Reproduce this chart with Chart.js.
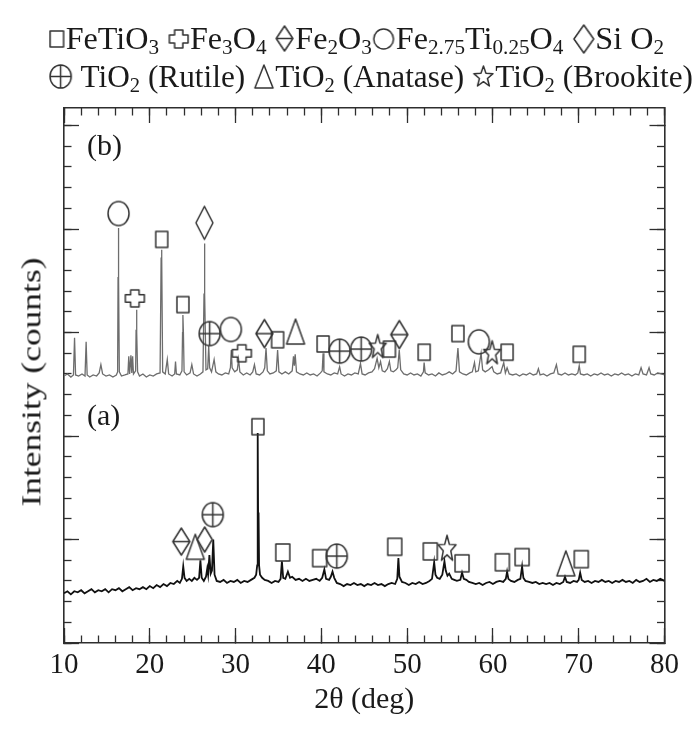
<!DOCTYPE html>
<html>
<head>
<meta charset="utf-8">
<script src="https://cdn.jsdelivr.net/npm/chart.js@4.4.0/dist/chart.umd.min.js"></script>
<style>
  html, body { margin: 0; padding: 0; background: #fff; }
  #wrap { position: relative; width: 699px; height: 731px; overflow: hidden; }
  #c { position: absolute; left: 0; top: 0; }
  .lg { position: absolute; left: 47.8px; white-space: nowrap; font-family: 'Liberation Serif', serif;
        font-size: 31px; line-height: 31px; color: #1a1a1a; display: inline-block; transform-origin: 0 0; }
  .lg sub { font-size: 0.66em; line-height: 0; vertical-align: -0.22em; }
  .pl { position: absolute; font-family: 'Liberation Serif', serif; font-size: 30px; line-height: 30px; color: #1a1a1a; white-space: nowrap; }
  .sym { display: inline-block; position: relative; height: 0; }
  .sym canvas { position: absolute; }
  #ytitle { position: absolute; left: 0; top: 0; font-family: 'Liberation Serif', serif; font-size: 28px; line-height: 28px;
            color: #1a1a1a; white-space: nowrap; display: inline-block; transform-origin: 50% 50%; }
</style>
</head>
<body>
<div id="wrap">
  <canvas id="c" width="699" height="731"></canvas>
  <div class="lg" id="row1"><span data-s="square"></span>FeTiO<sub>3</sub> <span data-s="cross"></span>Fe<sub>3</sub>O<sub>4</sub> <span data-s="fe2o3"></span>Fe<sub>2</sub>O<sub>3</sub><span data-s="circle"></span>Fe<sub>2.75</sub>Ti<sub>0.25</sub>O<sub>4</sub> <span data-s="diamond"></span>Si O<sub>2</sub></div>
  <div class="lg" id="row2"><span data-s="rutile"></span> TiO<sub>2</sub> (Rutile) <span data-s="triangle"></span>TiO<sub>2</sub> (Anatase) <span data-s="star"></span>TiO<sub>2</sub> (Brookite)</div>
  <div class="pl" style="left:87px;top:129.6px">(b)</div>
  <div class="pl" style="left:87px;top:399.6px">(a)</div>
  <div id="ytitle">Intensity (counts)</div>
</div>
<script>
// ---------------- data ----------------
const xTickLabels = ['10', '20', '30', '40', '50', '60', '70', '80'];

// pattern (a): [2theta, intensity]
const patternA = [
  [10.0,0.48],[10.4,0.50],[10.8,0.47],[11.2,0.50],[11.6,0.49],[12.0,0.51],[12.4,0.48],[12.8,0.50],[13.2,0.52],[13.6,0.49],
  [14.0,0.51],[14.4,0.50],[14.8,0.52],[15.2,0.49],[15.6,0.52],[16.0,0.51],[16.4,0.53],[16.8,0.50],[17.2,0.52],[17.6,0.54],
  [18.0,0.51],[18.4,0.53],[18.8,0.52],[19.2,0.54],[19.6,0.52],[20.0,0.55],[20.4,0.53],[20.8,0.56],[21.2,0.54],[21.6,0.57],
  [22.0,0.55],[22.4,0.58],[22.8,0.57],[23.2,0.60],[23.5,0.58],[23.75,0.62],[23.9,0.74],[24.05,0.63],[24.3,0.60],[24.6,0.62],
  [24.9,0.60],[25.2,0.63],[25.5,0.61],[25.75,0.63],[25.9,0.80],[26.05,0.63],[26.3,0.60],[26.55,0.64],[26.7,0.72],[26.8,0.66],
  [26.95,0.85],[27.1,0.67],[27.25,0.70],[27.4,1.00],[27.55,0.66],[27.8,0.60],[28.2,0.59],[28.6,0.61],[29.0,0.58],[29.4,0.60],
  [29.8,0.59],[30.2,0.61],[30.6,0.58],[31.0,0.60],[31.4,0.59],[31.8,0.61],[32.2,0.63],[32.4,0.66],[32.52,0.75],[32.56,1.25],
  [32.60,2.03],[32.64,1.00],[32.68,1.26],[32.74,0.75],[32.85,0.66],[33.1,0.63],[33.4,0.61],[33.8,0.60],[34.2,0.58],[34.6,0.60],
  [35.0,0.59],[35.25,0.62],[35.4,0.79],[35.55,0.63],[35.8,0.62],[36.1,0.69],[36.35,0.63],[36.6,0.64],[37.0,0.61],[37.4,0.62],
  [37.8,0.60],[38.2,0.62],[38.6,0.60],[39.0,0.61],[39.4,0.62],[39.8,0.60],[40.1,0.63],[40.35,0.71],[40.55,0.62],[40.9,0.61],
  [41.1,0.64],[41.3,0.69],[41.5,0.63],[41.8,0.58],[42.2,0.57],[42.6,0.55],[43.0,0.57],[43.4,0.56],[43.8,0.58],[44.2,0.56],
  [44.6,0.57],[45.0,0.55],[45.4,0.57],[45.8,0.56],[46.2,0.58],[46.6,0.56],[47.0,0.57],[47.4,0.55],[47.8,0.57],[48.2,0.58],
  [48.6,0.57],[48.85,0.62],[48.98,0.82],[49.1,0.64],[49.4,0.59],[49.8,0.58],[50.2,0.56],[50.6,0.58],[51.0,0.57],[51.4,0.59],
  [51.8,0.57],[52.2,0.58],[52.6,0.60],[52.9,0.62],[53.15,0.78],[53.3,0.66],[53.5,0.63],[53.8,0.62],[54.1,0.66],[54.35,0.79],
  [54.5,0.70],[54.7,0.65],[54.9,0.67],[55.2,0.62],[55.5,0.61],[55.8,0.60],[56.2,0.61],[56.4,0.68],[56.6,0.62],[56.9,0.61],
  [57.2,0.59],[57.6,0.58],[58.0,0.57],[58.4,0.58],[58.8,0.56],[59.2,0.58],[59.6,0.59],[60.0,0.57],[60.4,0.59],[60.8,0.60],
  [61.2,0.59],[61.5,0.62],[61.65,0.69],[61.8,0.62],[62.1,0.60],[62.5,0.59],[62.9,0.61],[63.2,0.62],[63.4,0.74],[63.55,0.63],
  [63.8,0.60],[64.2,0.59],[64.6,0.58],[65.0,0.59],[65.4,0.57],[65.8,0.58],[66.2,0.57],[66.6,0.58],[67.0,0.56],[67.4,0.58],
  [67.8,0.57],[68.2,0.59],[68.4,0.64],[68.6,0.59],[69.0,0.58],[69.4,0.60],[69.8,0.59],[70.0,0.61],[70.17,0.68],[70.35,0.61],
  [70.7,0.59],[71.1,0.60],[71.5,0.58],[71.9,0.60],[72.3,0.59],[72.7,0.61],[73.1,0.59],[73.5,0.60],[73.9,0.58],[74.3,0.60],
  [74.7,0.59],[75.1,0.61],[75.5,0.59],[75.9,0.60],[76.3,0.58],[76.7,0.61],[77.1,0.59],[77.5,0.60],[77.9,0.62],[78.3,0.59],
  [78.7,0.61],[79.1,0.60],[79.5,0.62],[80.0,0.60]
];

// pattern (b): [2theta, intensity]
const patternB = [
  [10.0,2.58],[10.4,2.60],[10.8,2.57],[11.1,2.59],[11.23,2.95],[11.35,2.59],[11.7,2.58],[12.1,2.60],[12.45,2.58],[12.58,2.91],
  [12.7,2.59],[13.0,2.57],[13.4,2.59],[13.8,2.58],[14.1,2.61],[14.3,2.69],[14.5,2.60],[14.9,2.58],[15.3,2.59],[15.7,2.57],
  [16.1,2.59],[16.25,2.62],[16.30,3.53],[16.34,4.01],[16.38,3.53],[16.45,2.62],[16.7,2.58],[17.1,2.59],[17.45,2.60],[17.55,2.77],
  [17.65,2.60],[17.8,2.78],[17.9,2.61],[18.0,2.77],[18.1,2.60],[18.35,2.63],[18.40,3.01],[18.45,3.22],[18.50,3.00],[18.58,2.62],
  [18.8,2.58],[19.2,2.60],[19.6,2.57],[20.0,2.59],[20.4,2.58],[20.8,2.60],[21.2,2.61],[21.32,3.72],[21.36,3.80],[21.42,3.72],
  [21.5,2.62],[21.8,2.60],[22.04,2.74],[22.2,2.60],[22.6,2.58],[22.9,2.60],[23.0,2.72],[23.1,2.60],[23.5,2.59],[23.75,2.63],
  [23.82,3.00],[23.86,3.17],[23.92,3.00],[24.0,2.62],[24.3,2.59],[24.7,2.61],[24.9,2.69],[25.1,2.60],[25.5,2.58],[25.9,2.60],
  [26.2,2.62],[26.32,3.37],[26.37,3.86],[26.42,3.37],[26.55,2.64],[26.75,2.65],[26.87,2.87],[26.98,2.66],[27.2,2.62],[27.5,2.74],
  [27.7,2.62],[28.0,2.60],[28.4,2.59],[28.8,2.61],[29.2,2.60],[29.4,2.66],[29.5,2.83],[29.6,2.66],[29.9,2.62],[30.2,2.64],
  [30.35,2.74],[30.5,2.62],[30.9,2.59],[31.3,2.61],[31.7,2.59],[32.0,2.62],[32.2,2.69],[32.4,2.60],[32.8,2.59],[33.2,2.62],
  [33.4,2.66],[33.55,2.85],[33.7,2.63],[34.0,2.60],[34.4,2.61],[34.75,2.63],[34.9,2.83],[35.05,2.62],[35.4,2.60],[35.8,2.62],
  [36.2,2.60],[36.6,2.63],[36.75,2.77],[36.85,2.68],[36.95,2.79],[37.1,2.62],[37.5,2.60],[37.9,2.59],[38.3,2.61],[38.7,2.59],
  [39.1,2.60],[39.5,2.58],[39.9,2.61],[40.1,2.63],[40.2,2.80],[40.3,2.62],[40.7,2.60],[41.1,2.59],[41.5,2.61],[41.9,2.60],
  [42.13,2.67],[42.3,2.60],[42.7,2.58],[43.1,2.60],[43.5,2.59],[43.9,2.61],[44.3,2.60],[44.56,2.70],[44.75,2.60],[45.1,2.59],
  [45.5,2.61],[45.9,2.62],[46.2,2.65],[46.5,2.75],[46.7,2.66],[46.9,2.72],[47.1,2.63],[47.4,2.62],[47.7,2.65],[47.93,2.72],
  [48.1,2.63],[48.4,2.62],[48.7,2.64],[48.9,2.66],[49.08,2.83],[49.25,2.64],[49.6,2.60],[50.0,2.59],[50.4,2.61],[50.8,2.59],
  [51.2,2.60],[51.6,2.58],[51.9,2.62],[51.98,2.71],[52.1,2.61],[52.5,2.59],[52.9,2.60],[53.3,2.58],[53.7,2.61],[54.1,2.59],
  [54.5,2.60],[54.9,2.62],[55.3,2.60],[55.7,2.63],[55.92,2.85],[56.1,2.62],[56.5,2.60],[56.9,2.59],[57.3,2.61],[57.6,2.62],
  [57.85,2.71],[58.0,2.62],[58.3,2.63],[58.62,2.80],[58.8,2.64],[59.1,2.62],[59.5,2.64],[59.75,2.66],[59.9,2.67],[60.1,2.62],
  [60.5,2.60],[60.9,2.61],[61.26,2.71],[61.45,2.61],[61.65,2.66],[61.9,2.60],[62.3,2.59],[62.7,2.60],[63.1,2.58],[63.5,2.60],
  [63.9,2.59],[64.3,2.61],[64.7,2.59],[65.1,2.60],[65.3,2.65],[65.5,2.59],[65.9,2.60],[66.3,2.58],[66.7,2.60],[67.1,2.61],
  [67.4,2.69],[67.6,2.60],[68.0,2.59],[68.4,2.61],[68.8,2.59],[69.2,2.60],[69.6,2.59],[69.9,2.61],[70.06,2.68],[70.2,2.60],
  [70.6,2.59],[71.0,2.60],[71.4,2.58],[71.8,2.60],[72.2,2.59],[72.6,2.61],[73.0,2.59],[73.4,2.60],[73.8,2.58],[74.2,2.60],
  [74.6,2.59],[75.0,2.61],[75.4,2.59],[75.8,2.60],[76.2,2.58],[76.6,2.60],[77.0,2.59],[77.27,2.66],[77.5,2.60],[77.9,2.59],
  [78.2,2.66],[78.4,2.60],[78.8,2.59],[79.2,2.61],[79.6,2.60],[80.0,2.59]
];

// phase marks: [2theta, intensity]
const markFeTiO3 = [[21.39,3.90],[23.86,3.27],[34.9,2.93],[40.2,2.89],[47.93,2.84],[51.98,2.81],[55.92,2.99],[61.65,2.81],[70.06,2.79],
                    [32.6,2.09],[35.5,0.875],[39.8,0.82],[48.55,0.93],[52.7,0.885],[56.4,0.77],[61.1,0.78],[63.4,0.83],[70.3,0.81]];
const markFe3O4 = [[18.26,3.33],[30.73,2.80]];
const markFe2O3 = [[33.36,2.99],[49.08,2.98],[23.67,0.98]];
const markFeTi = [[16.36,4.15],[29.45,3.03],[58.36,2.91]];
const markSiO2 = [[26.37,4.06],[26.4,1.00]];
const markRutile = [[26.98,2.99],[42.13,2.82],[44.64,2.84],[27.34,1.24],[41.8,0.84]];
const markAnatase = [[36.99,3.01],[25.3,0.93],[68.5,0.77]];
const markBrookite = [[46.57,2.87],[59.9,2.81],[54.65,0.92]];

// ---------------- styling ----------------
const FONT = 'Liberation Serif';
const INK = '#1a1a1a';
const FRAME = '#2e2e2e';
const SYMCOL = '#333';
const YMAX = 5.17;

// symbol sizes [w,h] : b = upper pattern, a = lower pattern, lg = legend
const SIZES = {
  square:   { b: [12, 16], a: [14, 17], lg: [13, 16] },
  cross:    { b: [19, 17], a: [19, 17], lg: [18, 18] },
  fe2o3:    { b: [17, 28], a: [17, 27], lg: [16, 25] },
  circle:   { b: [21, 24], a: [21, 24], lg: [19, 20] },
  diamond:  { b: [17, 33], a: [15, 25], lg: [19, 28] },
  rutile:   { b: [21, 24], a: [21, 24], lg: [21, 23] },
  triangle: { b: [18, 25], a: [18, 25], lg: [18, 23] },
  star:     { b: [17, 23], a: [18, 25], lg: [19, 20] }
};

function makeSym(type, w, h, lw) {
  const pad = 3;
  const c = document.createElement('canvas');
  c.width = Math.ceil(w + 2 * pad);
  c.height = Math.ceil(h + 2 * pad);
  const g = c.getContext('2d');
  g.strokeStyle = SYMCOL;
  g.lineWidth = lw;
  g.lineJoin = 'round';
  const cx = c.width / 2, cy = c.height / 2, rx = w / 2, ry = h / 2;
  g.beginPath();
  if (type === 'square') {
    g.rect(cx - rx, cy - ry, w, h);
  } else if (type === 'circle') {
    g.ellipse(cx, cy, rx, ry, 0, 0, Math.PI * 2);
  } else if (type === 'triangle') {
    g.moveTo(cx, cy - ry); g.lineTo(cx + rx, cy + ry); g.lineTo(cx - rx, cy + ry); g.closePath();
  } else if (type === 'diamond' || type === 'fe2o3') {
    g.moveTo(cx, cy - ry); g.lineTo(cx + rx, cy); g.lineTo(cx, cy + ry); g.lineTo(cx - rx, cy); g.closePath();
    if (type === 'fe2o3') { g.moveTo(cx - rx, cy); g.lineTo(cx + rx, cy); }
  } else if (type === 'rutile') {
    g.ellipse(cx, cy, rx, ry, 0, 0, Math.PI * 2);
    g.moveTo(cx - rx, cy); g.lineTo(cx + rx, cy);
    g.moveTo(cx, cy - ry); g.lineTo(cx, cy + ry);
  } else if (type === 'cross') {
    const a = w * 0.22, b = h * 0.22;
    const pts = [[-a,-ry],[a,-ry],[a,-b],[rx,-b],[rx,b],[a,b],[a,ry],[-a,ry],[-a,b],[-rx,b],[-rx,-b],[-a,-b]];
    pts.forEach((p, i) => i ? g.lineTo(cx + p[0], cy + p[1]) : g.moveTo(cx + p[0], cy + p[1]));
    g.closePath();
  } else if (type === 'star') {
    const Rx = rx / 0.951, Ry = h / 1.809, dy = 0.0955 * Ry;
    for (let i = 0; i < 10; i++) {
      const ang = -Math.PI / 2 + i * Math.PI / 5;
      const r = (i % 2) ? 0.42 : 1;
      const px = cx + r * Rx * Math.cos(ang), py = cy + dy + r * Ry * Math.sin(ang);
      i ? g.lineTo(px, py) : g.moveTo(px, py);
    }
    g.closePath();
  }
  g.stroke();
  return c;
}

// legend symbols
document.querySelectorAll('.lg span[data-s]').forEach(sp => {
  const t = sp.dataset.s;
  const [w, h] = SIZES[t].lg;
  const cv = makeSym(t, w, h, 1.5);
  sp.className = 'sym';
  sp.style.width = (w + 4) + 'px';
  cv.style.left = (2 - 3) + 'px';
  cv.style.top = (-10.3 - cv.height / 2) + 'px';
  sp.appendChild(cv);
});
function placeRow(id, top, target) {
  const el = document.getElementById(id);
  el.style.top = top + 'px';
  const wdt = el.getBoundingClientRect().width;
  el.style.transform = 'scaleX(' + (target / wdt) + ')';
}
placeRow('row1', 22.8, 616);
placeRow('row2', 60.7, 645);

// y-axis title: vertical text, centred at (31.5, 382), about 249 px long
(function () {
  const el = document.getElementById('ytitle');
  const r = el.getBoundingClientRect();
  const k = 249 / r.width;
  el.style.left = (31.5 - r.width / 2) + 'px';
  el.style.top = (382 - r.height / 2) + 'px';
  el.style.transform = 'rotate(-90deg) scaleX(' + k + ')';
})();

// marker datasets
function markDS(label, data, type) {
  const symB = makeSym(type, SIZES[type].b[0], SIZES[type].b[1], 1.5);
  const symA = makeSym(type, SIZES[type].a[0], SIZES[type].a[1], 1.5);
  return {
    label, data, showLine: false, pointRadius: 6, order: 0,
    pointStyle: ctx => (ctx.raw && ctx.raw[1] < 2) ? symA : symB
  };
}

function tickAxis(position, step, len, weight, border) {
  const horiz = position === 'top' || position === 'bottom';
  return {
    type: 'linear', position, weight,
    min: horiz ? 10 : 0, max: horiz ? 80 : YMAX,
    ticks: { display: false, stepSize: step, autoSkip: false, includeBounds: false },
    grid: { drawOnChartArea: false, drawTicks: true, tickLength: -len, tickColor: FRAME, tickWidth: 1.3 },
    border: { display: border, color: FRAME, width: 1.6 },
    afterFit(s) { if (horiz) s.height = 0; else s.width = 0; }
  };
}

const chart = new Chart(document.getElementById('c'), {
  type: 'scatter',
  data: {
    datasets: [
      { label: '(b)', data: patternB, showLine: true, borderColor: '#6d6d6d', borderWidth: 1.3, pointRadius: 0, tension: 0, order: 2 },
      { label: '(a)', data: patternA, showLine: true, borderColor: '#111', borderWidth: 1.8, pointRadius: 0, tension: 0, order: 1 },
      markDS('FeTiO3', markFeTiO3, 'square'),
      markDS('Fe3O4', markFe3O4, 'cross'),
      markDS('Fe2O3', markFe2O3, 'fe2o3'),
      markDS('Fe2.75Ti0.25O4', markFeTi, 'circle'),
      markDS('SiO2', markSiO2, 'diamond'),
      markDS('TiO2 (Rutile)', markRutile, 'rutile'),
      markDS('TiO2 (Anatase)', markAnatase, 'triangle'),
      markDS('TiO2 (Brookite)', markBrookite, 'star')
    ]
  },
  options: {
    responsive: false,
    animation: false,
    events: [],
    layout: { padding: { top: 108, right: 30, left: 0, bottom: 0 } },
    plugins: { legend: { display: false }, tooltip: { enabled: false } },
    scales: {
      x: {
        type: 'linear', position: 'bottom', min: 10, max: 80, weight: 1,
        ticks: {
          stepSize: 10, autoSkip: false, maxRotation: 0, padding: 20,
          font: { family: FONT, size: 29 }, color: INK,
          callback: (v) => { const i = xTickLabels.indexOf(String(v)); return i >= 0 ? xTickLabels[i] : ''; }
        },
        grid: { drawOnChartArea: false, tickLength: -15, tickColor: FRAME, tickWidth: 1.3 },
        border: { display: true, color: FRAME, width: 1.6 },
        title: { display: true, text: '2θ (deg)', font: { family: FONT, size: 30 }, color: INK, padding: { top: 0, bottom: 13 } },
        afterFit(s) { s.height = 88; }
      },
      xMinor: tickAxis('bottom', 2, 7.5, 0, false),
      xTop: tickAxis('top', 10, 15, 1, true),
      xTopMinor: tickAxis('top', 2, 7.5, 0, false),
      y: {
        type: 'linear', position: 'left', min: 0, max: YMAX, weight: 1,
        ticks: { display: false, stepSize: 1, includeBounds: false },
        grid: { drawOnChartArea: false, tickLength: -15, tickColor: FRAME, tickWidth: 1.3 },
        border: { display: true, color: FRAME, width: 1.6 },
        title: { display: false },
        afterFit(s) { s.width = 64; }
      },
      yMinor: tickAxis('left', 0.2, 7.5, 0, false),
      yRight: tickAxis('right', 1, 15, 1, true),
      yRightMinor: tickAxis('right', 0.2, 7.5, 0, false)
    }
  }
});
</script>
</body>
</html>
